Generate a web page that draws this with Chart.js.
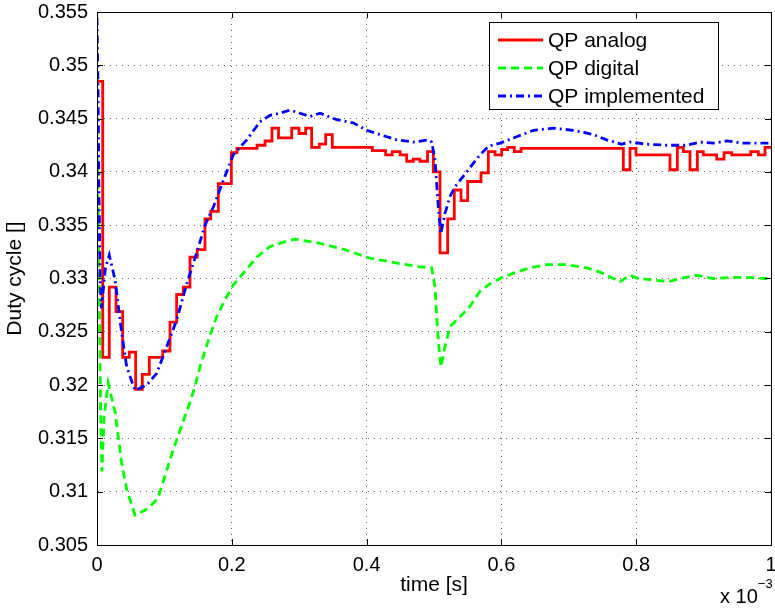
<!DOCTYPE html>
<html>
<head>
<meta charset="utf-8">
<title>Duty cycle</title>
<script src="https://cdn.jsdelivr.net/npm/chart.js@4.4.1/dist/chart.umd.min.js"></script>
<style>
html, body { margin: 0; padding: 0; background: #fff; }
#wrap { width: 775px; height: 608px; }
</style>
</head>
<body>
<div id="wrap"><canvas id="dutyChart" width="775" height="608"></canvas></div>
<script>
// time axis is in units of 1e-3 s
const seriesNames = ["QP analog", "QP digital", "QP implemented"];

const analogTime = [0, 0.0085, 0.0182, 0.0282, 0.0381, 0.0479, 0.0574, 0.0672, 0.0776, 0.0975, 0.1083, 0.1182, 0.128, 0.138, 0.1488, 0.1602, 0.1687, 0.18, 0.1993, 0.2077, 0.2374, 0.2493, 0.2596, 0.2693, 0.2889, 0.2997, 0.3096, 0.3185, 0.3298, 0.3393, 0.3491, 0.4085, 0.4283, 0.4381, 0.4496, 0.4595, 0.4693, 0.4792, 0.4904, 0.499, 0.5089, 0.5203, 0.5301, 0.5401, 0.55, 0.5697, 0.5806, 0.5905, 0.6004, 0.6093, 0.6191, 0.6291, 0.7809, 0.7908, 0.7997, 0.8501, 0.861, 0.8699, 0.8798, 0.8907, 0.8996, 0.9194, 0.9303, 0.9417, 0.9699, 0.9812, 0.9911, 1.0];
const analogDuty = [0.3485, 0.3226, 0.3292, 0.3269, 0.3226, 0.3231, 0.3196, 0.321, 0.3226, 0.3232, 0.3259, 0.3285, 0.3292, 0.332, 0.3327, 0.3356, 0.3363, 0.3389, 0.3418, 0.3422, 0.3425, 0.3429, 0.3441, 0.3432, 0.3441, 0.3436, 0.3441, 0.3423, 0.3426, 0.3435, 0.3423, 0.342, 0.3416, 0.3419, 0.3416, 0.341, 0.3412, 0.341, 0.3419, 0.34, 0.3324, 0.3356, 0.3383, 0.3373, 0.3391, 0.3399, 0.3419, 0.3416, 0.3421, 0.3423, 0.3419, 0.3422, 0.3402, 0.3422, 0.3416, 0.3402, 0.3423, 0.3419, 0.3402, 0.3419, 0.3416, 0.3412, 0.3418, 0.3416, 0.3419, 0.3416, 0.3423, 0.3423];

const digitalTime = [0, 0.003, 0.0055, 0.0072, 0.0105, 0.0165, 0.027, 0.0366, 0.0441, 0.0564, 0.0757, 0.0905, 0.1004, 0.1128, 0.1251, 0.1375, 0.1449, 0.1528, 0.1652, 0.1775, 0.1899, 0.2023, 0.2171, 0.2369, 0.2567, 0.2814, 0.2938, 0.3309, 0.368, 0.405, 0.4496, 0.479, 0.4966, 0.5015, 0.504, 0.508, 0.5104, 0.5163, 0.5237, 0.5386, 0.5534, 0.5682, 0.5831, 0.5979, 0.6177, 0.6424, 0.6672, 0.6969, 0.7266, 0.7463, 0.776, 0.7908, 0.8031, 0.8205, 0.8477, 0.865, 0.8898, 0.9144, 0.9392, 0.9639, 0.9911, 1.0];
const digitalDuty = [0.344, 0.33, 0.317, 0.3119, 0.317, 0.3202, 0.3174, 0.3127, 0.3102, 0.3078, 0.3084, 0.3094, 0.3114, 0.3139, 0.3161, 0.3183, 0.3198, 0.3217, 0.3242, 0.3264, 0.328, 0.3294, 0.3305, 0.332, 0.333, 0.3335, 0.3337, 0.3333, 0.3327, 0.3319, 0.3314, 0.3311, 0.331, 0.3292, 0.3264, 0.323, 0.3217, 0.3236, 0.3255, 0.3264, 0.3274, 0.3288, 0.3295, 0.33, 0.3305, 0.331, 0.3313, 0.3313, 0.331, 0.3306, 0.3297, 0.3303, 0.33, 0.3299, 0.3297, 0.33, 0.3303, 0.33, 0.3301, 0.3301, 0.33, 0.33];

const implTime = [0, 0.0015, 0.003, 0.0045, 0.0065, 0.0125, 0.0182, 0.0267, 0.0366, 0.0441, 0.0564, 0.0737, 0.0886, 0.1034, 0.1182, 0.1331, 0.1479, 0.1602, 0.1726, 0.1874, 0.2022, 0.2221, 0.2418, 0.2567, 0.2715, 0.2864, 0.3012, 0.316, 0.3309, 0.3556, 0.3803, 0.4001, 0.4199, 0.4447, 0.4693, 0.4916, 0.4966, 0.5015, 0.5064, 0.51, 0.5163, 0.5237, 0.5312, 0.5485, 0.5657, 0.5806, 0.5979, 0.6227, 0.6473, 0.677, 0.7067, 0.7364, 0.7562, 0.7785, 0.7908, 0.8156, 0.8452, 0.8749, 0.8947, 0.9144, 0.9343, 0.9589, 0.9911, 1.0];
const implDuty = [0.3545, 0.348, 0.338, 0.33, 0.3272, 0.331, 0.3322, 0.3299, 0.3249, 0.3217, 0.3195, 0.32, 0.3211, 0.3236, 0.3261, 0.3295, 0.3324, 0.335, 0.3367, 0.3392, 0.3416, 0.343, 0.3447, 0.3453, 0.3455, 0.3458, 0.3455, 0.3452, 0.3455, 0.3449, 0.3446, 0.3439, 0.3435, 0.343, 0.3428, 0.343, 0.3428, 0.3411, 0.3367, 0.3342, 0.3361, 0.3377, 0.3386, 0.34, 0.3414, 0.3424, 0.3427, 0.3433, 0.3439, 0.3441, 0.3439, 0.3435, 0.343, 0.3426, 0.3428, 0.3426, 0.3425, 0.3425, 0.3428, 0.3427, 0.3429, 0.3427, 0.3427, 0.3427];

const xTicks = [0, 0.2, 0.4, 0.6, 0.8, 1];
const yTicks = [0.305, 0.31, 0.315, 0.32, 0.325, 0.33, 0.335, 0.34, 0.345, 0.35, 0.355];

const fontFamily = "'Liberation Sans', Arial, Helvetica, sans-serif";

function toPoints(times, values) {
    return times.map((t, i) => ({ x: t, y: values[i] }));
}

// legend box drawn the MATLAB way (framed, top right)
const matlabLegend = {
    id: 'matlabLegend',
    afterDraw(chart) {
        const ctx = chart.ctx;
        ctx.save();
        ctx.fillStyle = '#fff';
        ctx.fillRect(489.5, 22.5, 229, 87);
        ctx.strokeStyle = '#000';
        ctx.lineWidth = 1;
        ctx.strokeRect(489.5, 22.5, 229, 87);
        ctx.font = '21px ' + fontFamily;
        ctx.textBaseline = 'middle';
        ctx.textAlign = 'left';
        chart.data.datasets.forEach((ds, i) => {
            const y = 40 + i * 28;
            ctx.beginPath();
            ctx.strokeStyle = ds.borderColor;
            ctx.lineWidth = ds.borderWidth;
            ctx.setLineDash(ds.borderDash || []);
            ctx.moveTo(498, y);
            ctx.lineTo(543, y);
            ctx.stroke();
            ctx.setLineDash([]);
            ctx.fillStyle = '#000';
            ctx.fillText(ds.label, 548, y + 1);
        });
        ctx.restore();
    }
};

// box, inward ticks and the x10^-3 exponent
const axesBox = {
    id: 'axesBox',
    afterDraw(chart) {
        const ctx = chart.ctx;
        const a = chart.chartArea;
        const xs = chart.scales.x;
        const ys = chart.scales.y;
        ctx.save();
        ctx.strokeStyle = '#000';
        ctx.lineWidth = 1;
        ctx.strokeRect(Math.round(a.left) + 0.5, Math.round(a.top) + 0.5, Math.round(a.right - a.left), Math.round(a.bottom - a.top));
        ctx.beginPath();
        xs.ticks.forEach(t => {
            const px = Math.round(xs.getPixelForValue(t.value)) + 0.5;
            ctx.moveTo(px, a.bottom); ctx.lineTo(px, a.bottom - 6);
            ctx.moveTo(px, a.top); ctx.lineTo(px, a.top + 6);
        });
        ys.ticks.forEach(t => {
            const py = Math.round(ys.getPixelForValue(t.value)) + 0.5;
            ctx.moveTo(a.left, py); ctx.lineTo(a.left + 6, py);
            ctx.moveTo(a.right, py); ctx.lineTo(a.right - 6, py);
        });
        ctx.stroke();

        ctx.fillStyle = '#000';
        ctx.textAlign = 'left';
        ctx.textBaseline = 'alphabetic';
        ctx.font = '20px ' + fontFamily;
        ctx.fillText('x 10', 720, 603);
        const w = ctx.measureText('x 10').width;
        ctx.font = '13px ' + fontFamily;
        ctx.fillText('\u22123', 720 + w, 588);
        ctx.restore();
    }
};

function createDutyChart() {
    const ctx = document.getElementById('dutyChart').getContext('2d');
    Chart.defaults.font.family = fontFamily;
    Chart.defaults.font.size = 20;
    Chart.defaults.color = '#000';

    return new Chart(ctx, {
        type: 'line',
        data: {
            datasets: [{
                label: seriesNames[0],
                data: toPoints(analogTime, analogDuty),
                borderColor: '#ff0000',
                borderWidth: 2.8,
                stepped: 'before',
                pointRadius: 0,
                order: 2
            }, {
                label: seriesNames[1],
                data: toPoints(digitalTime, digitalDuty),
                borderColor: '#00ff00',
                borderWidth: 2.8,
                borderDash: [8, 5],
                pointRadius: 0,
                order: 1
            }, {
                label: seriesNames[2],
                data: toPoints(implTime, implDuty),
                borderColor: '#0000ff',
                borderWidth: 2.8,
                borderDash: [8, 4, 2, 4],
                pointRadius: 0,
                order: 0
            }]
        },
        options: {
            responsive: false,
            animation: false,
            layout: { padding: { top: 12, right: 4, left: 0, bottom: 0 } },
            plugins: {
                legend: { display: false },
                tooltip: { enabled: false }
            },
            scales: {
                x: {
                    type: 'linear',
                    min: xTicks[0],
                    max: xTicks[xTicks.length - 1],
                    afterFit: scale => {
                        scale.height = 63;
                        scale.paddingLeft = 0;
                        scale.paddingRight = 0;
                    },
                    afterBuildTicks: scale => { scale.ticks = xTicks.map(v => ({ value: v })); },
                    ticks: {
                        padding: 8,
                        maxRotation: 0,
                        callback: v => String(Number(v.toFixed(1)))
                    },
                    grid: { color: '#666', lineWidth: 1, drawTicks: false },
                    border: { display: true, color: '#000', width: 1, dash: [1, 5] },
                    title: { display: true, text: 'time [s]', font: { size: 21 }, padding: { top: 0, bottom: 10 } }
                },
                y: {
                    type: 'linear',
                    min: yTicks[0],
                    max: yTicks[yTicks.length - 1],
                    afterFit: scale => {
                        scale.width = 97;
                        scale.paddingTop = 0;
                        scale.paddingBottom = 0;
                    },
                    afterBuildTicks: scale => { scale.ticks = yTicks.map(v => ({ value: v })); },
                    ticks: {
                        padding: 9,
                        callback: v => String(Number(v.toFixed(3)))
                    },
                    grid: { color: '#666', lineWidth: 1, drawTicks: false },
                    border: { display: true, color: '#000', width: 1, dash: [1, 5] },
                    title: { display: true, text: 'Duty cycle []', font: { size: 21 }, padding: { top: 3, bottom: 0 } }
                }
            }
        },
        plugins: [axesBox, matlabLegend]
    });
}

createDutyChart();
</script>
</body>
</html>
